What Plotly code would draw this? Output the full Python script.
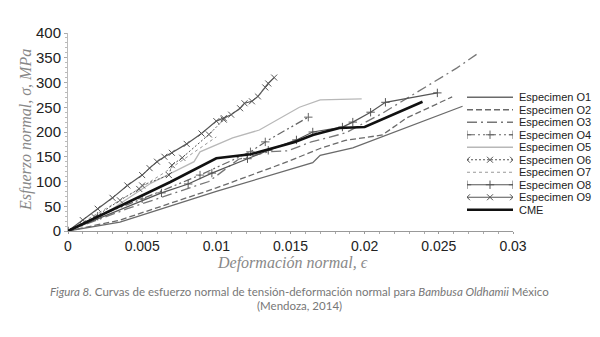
import plotly.graph_objects as go

# ---- data (strain, stress MPa) ----
o1_x = [0, 0.0035, 0.010, 0.0165, 0.0170, 0.0192, 0.0266]
o1_y = [0, 18, 80, 138, 153, 168, 252]

o2_x = [0, 0.0035, 0.010, 0.0148, 0.0171, 0.0187, 0.0212, 0.0228, 0.0259]
o2_y = [0, 22, 87, 140, 168, 183, 194, 228, 271]

o3_x = [0, 0.004, 0.0095, 0.0115, 0.0135, 0.0148, 0.0164, 0.0187, 0.0212, 0.0262, 0.0276]
o3_y = [0, 45, 100, 145, 160, 162, 180, 198, 238, 329, 358]

o4_x = [0, 0.002, 0.005, 0.0089, 0.0123, 0.0133, 0.0162]
o4_y = [0, 30, 65, 113, 160, 180, 230]

o5_x = [0, 0.003, 0.0055, 0.0085, 0.0089, 0.0111, 0.0129, 0.0156, 0.0170, 0.0198]
o5_y = [0, 45, 95, 140, 160, 188, 204, 250, 265, 267]

o6_x = [0, 0.0018, 0.0035, 0.0048, 0.0050, 0.0068, 0.0070, 0.0077, 0.0095, 0.0105]
o6_y = [0, 28, 62, 85, 92, 113, 133, 148, 195, 225]

o7_x = [0, 0.002, 0.0045, 0.0065, 0.0085, 0.0100]
o7_y = [0, 35, 80, 118, 160, 190]

o8_x = [0, 0.0063, 0.0081, 0.0097, 0.0121, 0.0135, 0.0154, 0.0165, 0.0185, 0.0192, 0.0204, 0.0214, 0.0249]
o8_y = [0, 77, 95, 117, 146, 163, 184, 200, 210, 220, 240, 260, 279]

o9_x = [0, 0.001, 0.002, 0.003, 0.004, 0.005, 0.0055, 0.006, 0.0065, 0.007, 0.008, 0.009,
        0.010, 0.0105, 0.011, 0.0116, 0.0119, 0.0124, 0.0128, 0.0133, 0.0135, 0.0139]
o9_y = [0, 22, 45, 67, 92, 113, 127, 140, 150, 158, 176, 197, 222, 228, 235, 248, 258, 262, 272, 290, 298, 310]

cme_x = [0, 0.0069, 0.010, 0.0123, 0.0153, 0.0165, 0.0183, 0.020, 0.0239]
cme_y = [0, 99, 147, 155, 180, 194, 208, 210, 261]

x_ticks = [0, 0.005, 0.01, 0.015, 0.02, 0.025, 0.03]
x_labels = ["0", "0.005", "0.01", "0.015", "0.02", "0.025", "0.03"]
y_ticks = [0, 50, 100, 150, 200, 250, 300, 350, 400]

series = [
    ("Especimen O1", o1_x, o1_y, "#6a6a6a", 1.3, "solid", None),
    ("Especimen O2", o2_x, o2_y, "#6a6a6a", 1.3, "6px,3px", None),
    ("Especimen O3", o3_x, o3_y, "#777777", 1.3, "10px,4px,2px,4px", None),
    ("Especimen O4", o4_x, o4_y, "#666666", 1.2, "8px,3px,2px,3px,2px,3px", "cross-thin"),
    ("Especimen O5", o5_x, o5_y, "#b8b8b8", 1.3, "solid", None),
    ("Especimen O6", o6_x, o6_y, "#555555", 1.0, "2px,2px", "x-thin"),
    ("Especimen O7", o7_x, o7_y, "#999999", 1.0, "dot", None),
    ("Especimen O8", o8_x, o8_y, "#555555", 1.2, "solid", "cross-thin"),
    ("Especimen O9", o9_x, o9_y, "#555555", 1.2, "solid", "x-thin"),
    ("CME", cme_x, cme_y, "#111111", 2.6, "solid", None),
]

fig = go.Figure()

for name, xs, ys, color, width, dash, symbol in series:
    kw = {}
    if symbol:
        kw["marker"] = dict(symbol=symbol, size=6, color=color,
                            line=dict(color=color, width=1))
    fig.add_trace(go.Scatter(x=xs, y=ys, name=name,
                             mode="lines+markers" if symbol else "lines",
                             line=dict(color=color, width=width, dash=dash),
                             showlegend=False, **kw))

# ---- manual compact legend on a helper subplot ----
for i, (name, xs, ys, color, width, dash, symbol) in enumerate(series):
    kw = {}
    lx = [0, 0.5, 1] if symbol else [0, 1]
    if symbol:
        kw["marker"] = dict(symbol=symbol, size=6, color=color,
                            line=dict(color=color, width=1))
    fig.add_trace(go.Scatter(x=lx, y=[i] * len(lx), xaxis="x2", yaxis="y2",
                             mode="lines+markers" if symbol else "lines",
                             line=dict(color=color, width=width, dash=dash),
                             showlegend=False, hoverinfo="skip", **kw))
    fig.add_annotation(xref="paper", yref="y2", x=(517 - 68) / 445, y=i,
                       text=name, showarrow=False, xanchor="left", yanchor="middle",
                       font=dict(family="Liberation Sans, Arial", size=11, color="#222"))

L, R, T, B = 68, 87, 33, 106
ph = 337 - T - B
pw = 600 - L - R


def py(px):
    return (337 - B - px) / ph


def pxx(px):
    return (px - L) / pw


fig.update_layout(
    width=600, height=337,
    margin=dict(l=L, r=R, t=T, b=B),
    paper_bgcolor="white", plot_bgcolor="rgba(0,0,0,0)",
    font=dict(family="Liberation Sans, Arial", color="#222"),
    showlegend=False,
    xaxis=dict(range=[0, 0.03], tickvals=x_ticks, ticktext=x_labels,
               showgrid=False, zeroline=False, showline=True, linecolor="#999",
               linewidth=1, ticks="outside", ticklen=2, tickcolor="#999",
               tickfont=dict(size=14, color="#222"),
               minor=dict(dtick=0.001, ticks="outside", ticklen=2, tickcolor="#aaa")),
    yaxis=dict(range=[0, 400], tickvals=y_ticks,
               showgrid=False, zeroline=False, showline=True, linecolor="#bbb",
               linewidth=1, ticks="outside", ticklen=3, tickcolor="#aaa",
               tickfont=dict(size=15, color="#222"),
               minor=dict(dtick=10, ticks="outside", ticklen=2, tickcolor="#bbb")),
    xaxis2=dict(domain=[pxx(467), 1.0], range=[0, 1], anchor="y2",
                visible=False, fixedrange=True),
    yaxis2=dict(domain=[py(216), py(91)], range=[9.5, -0.5], anchor="x2",
                visible=False, fixedrange=True),
)

fig.add_annotation(xref="paper", yref="paper", x=pxx(26), y=py(130),
                   xanchor="center", yanchor="middle",
                   text="<i>Esfuerzo normal, σ, MPa</i>", textangle=-90, showarrow=False,
                   font=dict(family="Liberation Serif", size=16, color="#888"))
fig.add_annotation(xref="paper", yref="paper", x=pxx(292), y=py(263),
                   xanchor="center", yanchor="middle",
                   text="<i>Deformación normal, ϵ</i>", showarrow=False,
                   font=dict(family="Liberation Serif", size=16, color="#888"))
fig.add_annotation(xref="paper", yref="paper", x=pxx(299), y=py(291),
                   xanchor="center", yanchor="middle",
                   text="<i>Figura 8.</i> Curvas de esfuerzo normal de tensión-deformación normal para <i>Bambusa Oldhamii</i> México",
                   showarrow=False, font=dict(family="Lato", size=11.5, color="#777"))
fig.add_annotation(xref="paper", yref="paper", x=pxx(299), y=py(305),
                   xanchor="center", yanchor="middle",
                   text="(Mendoza, 2014)",
                   showarrow=False, font=dict(family="Lato", size=11.5, color="#777"))

fig.write_html("out.html")
